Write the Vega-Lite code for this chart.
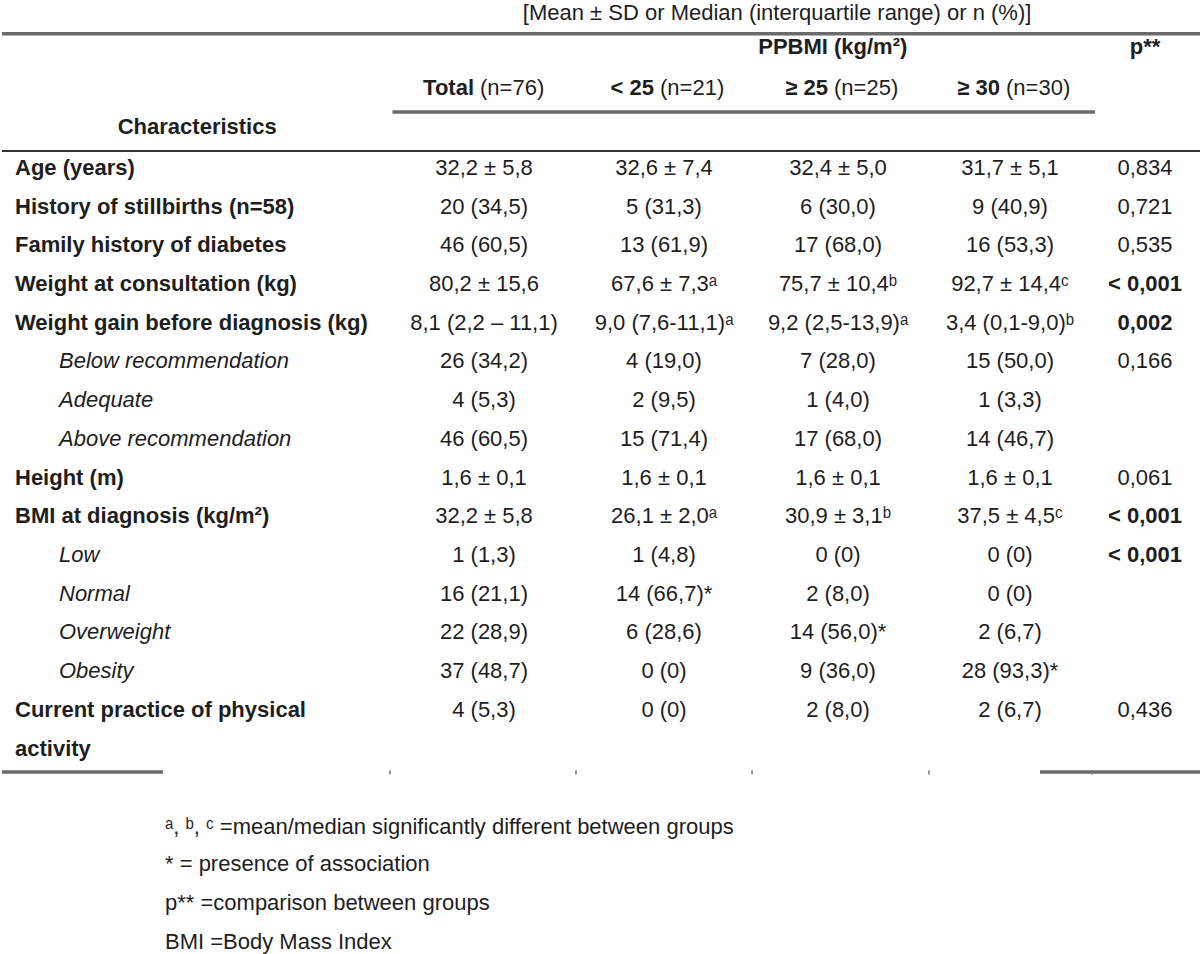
{
  "$schema": "https://vega.github.io/schema/vega-lite/v6.json",
  "width": 1200,
  "height": 954,
  "autosize": {"type": "fit", "contains": "padding"},
  "padding": 0,
  "background": "white",
  "config": {
    "view": {"stroke": null},
    "text": {"font": "Liberation Sans", "fontSize": 22, "color": "#1e1e1e", "baseline": "middle"}
  },
  "datasets": {
    "cells": [
      {"row": -3.0, "col": 2.65, "text": "[Mean ± SD or Median (interquartile range) or n (%)]", "kind": "title"},
      {"row": -2.13, "col": 2.97, "text": "PPBMI (kg/m²)", "kind": "centerBold"},
      {"row": -2.13, "col": 5, "text": "p**", "kind": "centerBold"},
      {"row": -1.06, "col": 1, "text": "Total", "kind": "headBold"},
      {"row": -1.06, "col": 1, "text": "(n=76)", "kind": "headReg"},
      {"row": -1.06, "col": 2, "text": "< 25", "kind": "headBold"},
      {"row": -1.06, "col": 2, "text": "(n=21)", "kind": "headReg"},
      {"row": -1.06, "col": 3, "text": "≥ 25", "kind": "headBold"},
      {"row": -1.06, "col": 3, "text": "(n=25)", "kind": "headReg"},
      {"row": -1.06, "col": 4, "text": "≥ 30", "kind": "headBold"},
      {"row": -1.06, "col": 4, "text": "(n=30)", "kind": "headReg"},
      {"row": -0.05, "col": 0.405, "text": "Characteristics", "kind": "centerBold"},

      {"row": 1, "col": 0, "text": "Age (years)", "kind": "label"},
      {"row": 1, "col": 1, "text": "32,2 ± 5,8", "kind": "value"},
      {"row": 1, "col": 2, "text": "32,6 ± 7,4", "kind": "value"},
      {"row": 1, "col": 3, "text": "32,4 ± 5,0", "kind": "value"},
      {"row": 1, "col": 4, "text": "31,7 ± 5,1", "kind": "value"},
      {"row": 1, "col": 5, "text": "0,834", "kind": "value"},

      {"row": 2, "col": 0, "text": "History of stillbirths (n=58)", "kind": "label"},
      {"row": 2, "col": 1, "text": "20 (34,5)", "kind": "value"},
      {"row": 2, "col": 2, "text": "5 (31,3)", "kind": "value"},
      {"row": 2, "col": 3, "text": "6 (30,0)", "kind": "value"},
      {"row": 2, "col": 4, "text": "9 (40,9)", "kind": "value"},
      {"row": 2, "col": 5, "text": "0,721", "kind": "value"},

      {"row": 3, "col": 0, "text": "Family history of diabetes", "kind": "label"},
      {"row": 3, "col": 1, "text": "46 (60,5)", "kind": "value"},
      {"row": 3, "col": 2, "text": "13 (61,9)", "kind": "value"},
      {"row": 3, "col": 3, "text": "17 (68,0)", "kind": "value"},
      {"row": 3, "col": 4, "text": "16 (53,3)", "kind": "value"},
      {"row": 3, "col": 5, "text": "0,535", "kind": "value"},

      {"row": 4, "col": 0, "text": "Weight at consultation (kg)", "kind": "label"},
      {"row": 4, "col": 1, "text": "80,2 ± 15,6", "kind": "value"},
      {"row": 4, "col": 2, "text": "67,6 ± 7,3ᵃ", "kind": "value"},
      {"row": 4, "col": 3, "text": "75,7 ± 10,4ᵇ", "kind": "value"},
      {"row": 4, "col": 4, "text": "92,7 ± 14,4ᶜ", "kind": "value"},
      {"row": 4, "col": 5, "text": "< 0,001", "kind": "pbold"},

      {"row": 5, "col": 0, "text": "Weight gain before diagnosis (kg)", "kind": "label"},
      {"row": 5, "col": 1, "text": "8,1 (2,2 – 11,1)", "kind": "value"},
      {"row": 5, "col": 2, "text": "9,0 (7,6-11,1)ᵃ", "kind": "value"},
      {"row": 5, "col": 3, "text": "9,2 (2,5-13,9)ᵃ", "kind": "value"},
      {"row": 5, "col": 4, "text": "3,4 (0,1-9,0)ᵇ", "kind": "value"},
      {"row": 5, "col": 5, "text": "0,002", "kind": "pbold"},

      {"row": 6, "col": 0, "text": "Below recommendation", "kind": "sublabel"},
      {"row": 6, "col": 1, "text": "26 (34,2)", "kind": "value"},
      {"row": 6, "col": 2, "text": "4 (19,0)", "kind": "value"},
      {"row": 6, "col": 3, "text": "7 (28,0)", "kind": "value"},
      {"row": 6, "col": 4, "text": "15 (50,0)", "kind": "value"},
      {"row": 6, "col": 5, "text": "0,166", "kind": "value"},

      {"row": 7, "col": 0, "text": "Adequate", "kind": "sublabel"},
      {"row": 7, "col": 1, "text": "4 (5,3)", "kind": "value"},
      {"row": 7, "col": 2, "text": "2 (9,5)", "kind": "value"},
      {"row": 7, "col": 3, "text": "1 (4,0)", "kind": "value"},
      {"row": 7, "col": 4, "text": "1 (3,3)", "kind": "value"},

      {"row": 8, "col": 0, "text": "Above recommendation", "kind": "sublabel"},
      {"row": 8, "col": 1, "text": "46 (60,5)", "kind": "value"},
      {"row": 8, "col": 2, "text": "15 (71,4)", "kind": "value"},
      {"row": 8, "col": 3, "text": "17 (68,0)", "kind": "value"},
      {"row": 8, "col": 4, "text": "14 (46,7)", "kind": "value"},

      {"row": 9, "col": 0, "text": "Height (m)", "kind": "label"},
      {"row": 9, "col": 1, "text": "1,6 ± 0,1", "kind": "value"},
      {"row": 9, "col": 2, "text": "1,6 ± 0,1", "kind": "value"},
      {"row": 9, "col": 3, "text": "1,6 ± 0,1", "kind": "value"},
      {"row": 9, "col": 4, "text": "1,6 ± 0,1", "kind": "value"},
      {"row": 9, "col": 5, "text": "0,061", "kind": "value"},

      {"row": 10, "col": 0, "text": "BMI at diagnosis (kg/m²)", "kind": "label"},
      {"row": 10, "col": 1, "text": "32,2 ± 5,8", "kind": "value"},
      {"row": 10, "col": 2, "text": "26,1 ± 2,0ᵃ", "kind": "value"},
      {"row": 10, "col": 3, "text": "30,9 ± 3,1ᵇ", "kind": "value"},
      {"row": 10, "col": 4, "text": "37,5 ± 4,5ᶜ", "kind": "value"},
      {"row": 10, "col": 5, "text": "< 0,001", "kind": "pbold"},

      {"row": 11, "col": 0, "text": "Low", "kind": "sublabel"},
      {"row": 11, "col": 1, "text": "1 (1,3)", "kind": "value"},
      {"row": 11, "col": 2, "text": "1 (4,8)", "kind": "value"},
      {"row": 11, "col": 3, "text": "0 (0)", "kind": "value"},
      {"row": 11, "col": 4, "text": "0 (0)", "kind": "value"},
      {"row": 11, "col": 5, "text": "< 0,001", "kind": "pbold"},

      {"row": 12, "col": 0, "text": "Normal", "kind": "sublabel"},
      {"row": 12, "col": 1, "text": "16 (21,1)", "kind": "value"},
      {"row": 12, "col": 2, "text": "14 (66,7)*", "kind": "value"},
      {"row": 12, "col": 3, "text": "2 (8,0)", "kind": "value"},
      {"row": 12, "col": 4, "text": "0 (0)", "kind": "value"},

      {"row": 13, "col": 0, "text": "Overweight", "kind": "sublabel"},
      {"row": 13, "col": 1, "text": "22 (28,9)", "kind": "value"},
      {"row": 13, "col": 2, "text": "6 (28,6)", "kind": "value"},
      {"row": 13, "col": 3, "text": "14 (56,0)*", "kind": "value"},
      {"row": 13, "col": 4, "text": "2 (6,7)", "kind": "value"},

      {"row": 14, "col": 0, "text": "Obesity", "kind": "sublabel"},
      {"row": 14, "col": 1, "text": "37 (48,7)", "kind": "value"},
      {"row": 14, "col": 2, "text": "0 (0)", "kind": "value"},
      {"row": 14, "col": 3, "text": "9 (36,0)", "kind": "value"},
      {"row": 14, "col": 4, "text": "28 (93,3)*", "kind": "value"},

      {"row": 15, "col": 0, "text": "Current practice of physical", "kind": "label"},
      {"row": 16, "col": 0, "text": "activity", "kind": "label"},
      {"row": 15, "col": 1, "text": "4 (5,3)", "kind": "value"},
      {"row": 15, "col": 2, "text": "0 (0)", "kind": "value"},
      {"row": 15, "col": 3, "text": "2 (8,0)", "kind": "value"},
      {"row": 15, "col": 4, "text": "2 (6,7)", "kind": "value"},
      {"row": 15, "col": 5, "text": "0,436", "kind": "value"},

      {"row": 18.03, "col": 0, "text": "ᵃ, ᵇ, ᶜ =mean/median significantly different between groups", "kind": "foot"},
      {"row": 18.98, "col": 0, "text": "* = presence of association", "kind": "foot"},
      {"row": 20.0, "col": 0, "text": "p** =comparison between groups", "kind": "foot"},
      {"row": 21.0, "col": 0, "text": "BMI =Body Mass Index", "kind": "foot"}
    ],
    "lines": [
      {"row": -2.47, "col": 0, "col2": 6, "kind": "thick"},
      {"row": -0.447, "col": 0.81, "col2": 4.63, "kind": "thick"},
      {"row": 0.56, "col": 0, "col2": 6, "kind": "thin"},
      {"row": 16.61, "col": 0, "col2": 0.334, "kind": "thick"},
      {"row": 16.61, "col": 4.222, "col2": 6, "kind": "thick"}
    ],
    "ticks": [
      {"col": 0.805, "row": 16.56, "row2": 16.67},
      {"col": 1.511, "row": 16.56, "row2": 16.67},
      {"col": 2.506, "row": 16.56, "row2": 16.67},
      {"col": 3.529, "row": 16.56, "row2": 16.67},
      {"col": 4.607, "row": 16.56, "row2": 16.67}
    ]
  },
  "encoding": {
    "x": {
      "field": "col",
      "type": "quantitative",
      "axis": null,
      "scale": {"domain": [0, 1, 2, 3, 4, 5, 6], "range": [0, 482, 662, 836, 1008, 1143, 1200], "nice": false, "zero": false}
    },
    "y": {
      "field": "row",
      "type": "quantitative",
      "axis": null,
      "scale": {"domain": [-3.341, 21.31], "reverse": true, "nice": false, "zero": false}
    }
  },
  "layer": [
    {
      "data": {"name": "lines"},
      "transform": [{"filter": "datum.kind === 'thick'"}],
      "mark": {"type": "rule", "strokeWidth": 3.5, "color": "#6b6b6b"},
      "encoding": {"x2": {"field": "col2"}}
    },
    {
      "data": {"name": "lines"},
      "transform": [{"filter": "datum.kind === 'thin'"}],
      "mark": {"type": "rule", "strokeWidth": 2, "color": "#333333"},
      "encoding": {"x2": {"field": "col2"}}
    },
    {
      "data": {"name": "ticks"},
      "mark": {"type": "rule", "strokeWidth": 1.5, "color": "#777777"},
      "encoding": {"y2": {"field": "row2"}}
    },
    {
      "data": {"name": "cells"},
      "transform": [{"filter": "datum.kind === 'title'"}],
      "mark": {"type": "text", "align": "center"},
      "encoding": {"text": {"field": "text"}}
    },
    {
      "data": {"name": "cells"},
      "transform": [{"filter": "datum.kind === 'centerBold'"}],
      "mark": {"type": "text", "align": "center", "fontWeight": "bold"},
      "encoding": {"text": {"field": "text"}}
    },
    {
      "data": {"name": "cells"},
      "transform": [{"filter": "datum.kind === 'headBold'"}],
      "mark": {"type": "text", "align": "right", "fontWeight": "bold", "dx": -10},
      "encoding": {"text": {"field": "text"}}
    },
    {
      "data": {"name": "cells"},
      "transform": [{"filter": "datum.kind === 'headReg'"}],
      "mark": {"type": "text", "align": "left", "dx": -4},
      "encoding": {"text": {"field": "text"}}
    },
    {
      "data": {"name": "cells"},
      "transform": [{"filter": "datum.kind === 'label'"}],
      "mark": {"type": "text", "align": "left", "fontWeight": "bold", "dx": 13},
      "encoding": {"text": {"field": "text"}}
    },
    {
      "data": {"name": "cells"},
      "transform": [{"filter": "datum.kind === 'sublabel'"}],
      "mark": {"type": "text", "align": "left", "fontStyle": "italic", "dx": 57},
      "encoding": {"text": {"field": "text"}}
    },
    {
      "data": {"name": "cells"},
      "transform": [{"filter": "datum.kind === 'value'"}],
      "mark": {"type": "text", "align": "center"},
      "encoding": {"text": {"field": "text"}}
    },
    {
      "data": {"name": "cells"},
      "transform": [{"filter": "datum.kind === 'pbold'"}],
      "mark": {"type": "text", "align": "center", "fontWeight": "bold"},
      "encoding": {"text": {"field": "text"}}
    },
    {
      "data": {"name": "cells"},
      "transform": [{"filter": "datum.kind === 'foot'"}],
      "mark": {"type": "text", "align": "left", "dx": 163, "fontSize": 22},
      "encoding": {"text": {"field": "text"}}
    }
  ]
}
